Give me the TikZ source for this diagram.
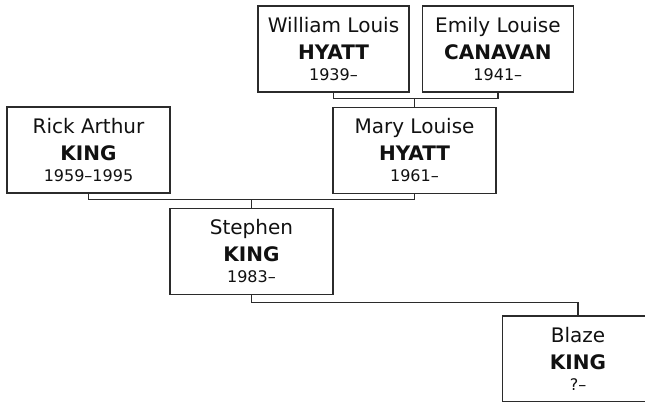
\documentclass[tikz,border=0pt]{standalone}
\usepackage{fontspec}
\setmainfont{DejaVu Sans}
\usetikzlibrary{positioning,calc}
\definecolor{famInk}{HTML}{111111}
\definecolor{famLine}{HTML}{2B2B2B}
\newcommand{\famPerson}[3]{#1\\\textbf{#2}\\[-4pt]{\fontsize{12}{15}\selectfont #3}}

\begin{document}
\begin{tikzpicture}[x=0.75pt,y=-0.75pt,
  box/.style={draw=famLine,line width=1pt,fill=white,align=center,inner sep=0pt,
              minimum width=122.25pt,minimum height=64.5pt,
              font=\fontsize{15}{20}\selectfont,text=famInk},
  narrow/.style={minimum width=113.25pt},
  link/.style={draw=famLine,line width=1pt}]
\useasboundingbox (0,0) rectangle (645,402);
% grandparents
\node[box,narrow] (WH) at (333.5,49) {\famPerson{William Louis}{HYATT}{1939–}};
\node[box,narrow,right=9pt of WH] (EC) {\famPerson{Emily Louise}{CANAVAN}{1941–}};
% parents
\node[box] (RK) at (88.5,150) {\famPerson{Rick Arthur}{KING}{1959–1995}};
\node[box] (MH) at (414.5,150.5) {\famPerson{Mary Louise}{HYATT}{1961–}};
% children
\node[box] (SK) at (251.5,251.5) {\famPerson{Stephen}{KING}{1983–}};
\node[box,narrow] (BK) at (578,359) {\famPerson{Blaze}{KING}{?–}};
\coordinate (hyatt) at ($(MH.north)+(0,-8)$);
\coordinate (king) at ($(SK.north)+(0,-8)$);
\coordinate (blaze) at ($(SK.south)+(0,7)$);
\draw[link] (WH.south) |- (hyatt) -| (EC.south);
\draw[link] (hyatt) -- (MH.north);
\draw[link] (RK.south) |- (king) -| (MH.south);
\draw[link] (king) -- (SK.north);
\draw[link] (SK.south) -- (blaze) -| (BK.north);
\end{tikzpicture}
\end{document}
